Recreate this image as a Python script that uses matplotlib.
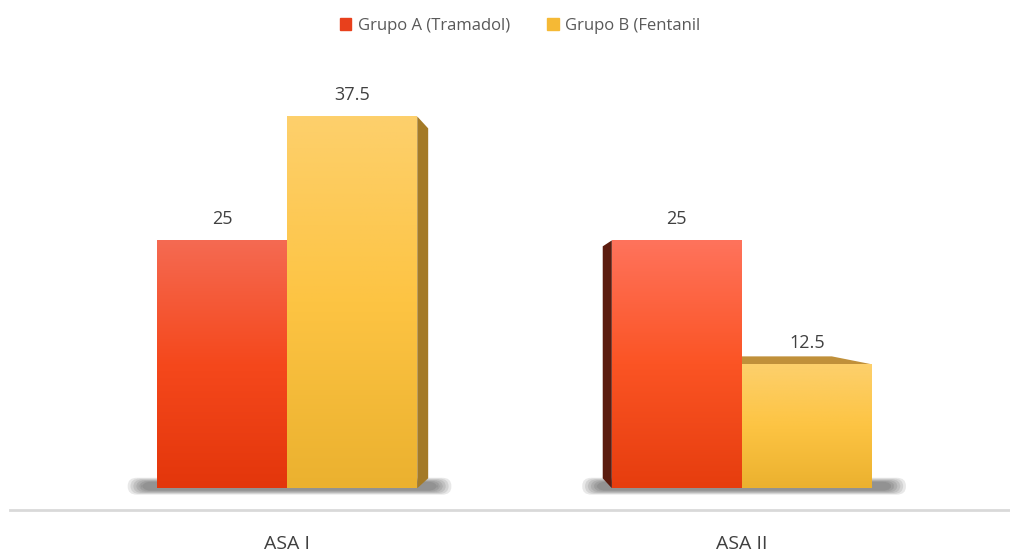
import numpy as np
import matplotlib
matplotlib.use("Agg")
import matplotlib.pyplot as plt
from matplotlib import font_manager
from matplotlib.colors import LinearSegmentedColormap
from matplotlib.patches import Patch, Polygon, FancyBboxPatch

# data
categories = ["ASA I", "ASA II"]
series_names = ["Grupo A (Tramadol)", "Grupo B (Fentanil"]
grupo_a = [25, 25]
grupo_b = [37.5, 12.5]
labels_a = ["25", "25"]
labels_b = ["37.5", "12.5"]

# pick a narrow font if there is one
names = set(f.name for f in font_manager.fontManager.ttflist)
fam = "DejaVu Sans"
for f in ["Liberation Sans Narrow", "Open Sans", "Noto Sans"]:
    if f in names:
        fam = f
        break
plt.rcParams["font.family"] = [fam, "DejaVu Sans"]

fig = plt.figure(figsize=(10.1, 5.56), dpi=100)
ax = fig.add_axes([10 / 1010, 46 / 556, 1.0 - 10 / 1010, 450 / 556])

x = np.arange(len(categories))
w = 0.286

red_cmap = LinearSegmentedColormap.from_list("r", ["#e3360b", "#f5481c", "#f46a52"])
red_cmap2 = LinearSegmentedColormap.from_list("r2", ["#e63d0e", "#fb5424", "#ff735c"])
yel_cmap = LinearSegmentedColormap.from_list("y", ["#ebb12f", "#fdc443", "#fdd06c"])

# soft shadows under each pair
for xc in x:
    for k in range(6):
        pad = 0.006 * k
        sh = FancyBboxPatch((xc - w - 0.035 - pad, -0.25 - 0.08 * k), 2 * w + 0.08 + 2 * pad, 0.9 + 0.16 * k,
                            boxstyle="round,pad=0,rounding_size=0.02", mutation_aspect=40,
                            fc="#202020", ec="none", alpha=0.1, zorder=1)
        ax.add_patch(sh)

bars_a = ax.bar(x - w / 2, grupo_a, w, color="none", zorder=3)
bars_b = ax.bar(x + w / 2, grupo_b, w, color="none", zorder=3)

grad = np.linspace(0, 1, 256).reshape(-1, 1)
for i, b in enumerate(bars_a):
    cm = red_cmap if i == 0 else red_cmap2
    im = ax.imshow(grad, cmap=cm, origin="lower", aspect="auto", zorder=3,
                   extent=[b.get_x(), b.get_x() + w, 0, b.get_height()])
    im.set_clip_path(b)
for b in bars_b:
    im = ax.imshow(grad, cmap=yel_cmap, origin="lower", aspect="auto", zorder=3,
                   extent=[b.get_x(), b.get_x() + w, 0, b.get_height()])
    im.set_clip_path(b)

# 3d faces
b = bars_b[0]
x1 = b.get_x() + w
h = b.get_height()
ax.add_patch(Polygon([(x1, h), (x1 + 0.024, h - 1.2), (x1 + 0.024, 1.0), (x1, 0)],
                     fc="#a47a27", ec="none", zorder=2))
b = bars_a[1]
x0 = b.get_x()
h = b.get_height()
ax.add_patch(Polygon([(x0, h), (x0 - 0.02, h - 0.6), (x0 - 0.02, 1.0), (x0, 0)],
                     fc="#5c1c0f", ec="none", zorder=2))
b = bars_b[1]
x0 = b.get_x()
h = b.get_height()
ax.add_patch(Polygon([(x0, h), (x0, h + 0.8), (x0 + w - 0.088, h + 0.8), (x0 + w, h)],
                     fc="#c0903a", ec="none", zorder=2))

for bs, labs in [(bars_a, labels_a), (bars_b, labels_b)]:
    for b, t in zip(bs, labs):
        ax.annotate(t, (b.get_x() + w / 2, b.get_height()), xytext=(0, 9),
                    textcoords="offset points", ha="center", va="bottom",
                    fontsize=13, color="#404040")

ax.set_xlim(-0.61, 1.59)
ax.set_ylim(-2.2, 43.2)
ax.set_yticks([])
ax.set_xticks(x)
ax.set_xticklabels(categories, fontsize=14, color="#404040")
ax.tick_params(axis="x", length=0, pad=18)
for s in ["top", "right", "left"]:
    ax.spines[s].set_visible(False)
ax.spines["bottom"].set_color("#d9d9d9")
ax.spines["bottom"].set_linewidth(2)

handles = [Patch(color="#e8401c"), Patch(color="#f5b935")]
fig.legend(handles, series_names, loc="upper center", bbox_to_anchor=(0.515, 0.995),
           ncol=2, frameon=False, fontsize=12, handlelength=0.7, handleheight=0.7,
           handletextpad=0.4, columnspacing=2.2, labelcolor="#595959")

fig.savefig("out.png", dpi=100)
